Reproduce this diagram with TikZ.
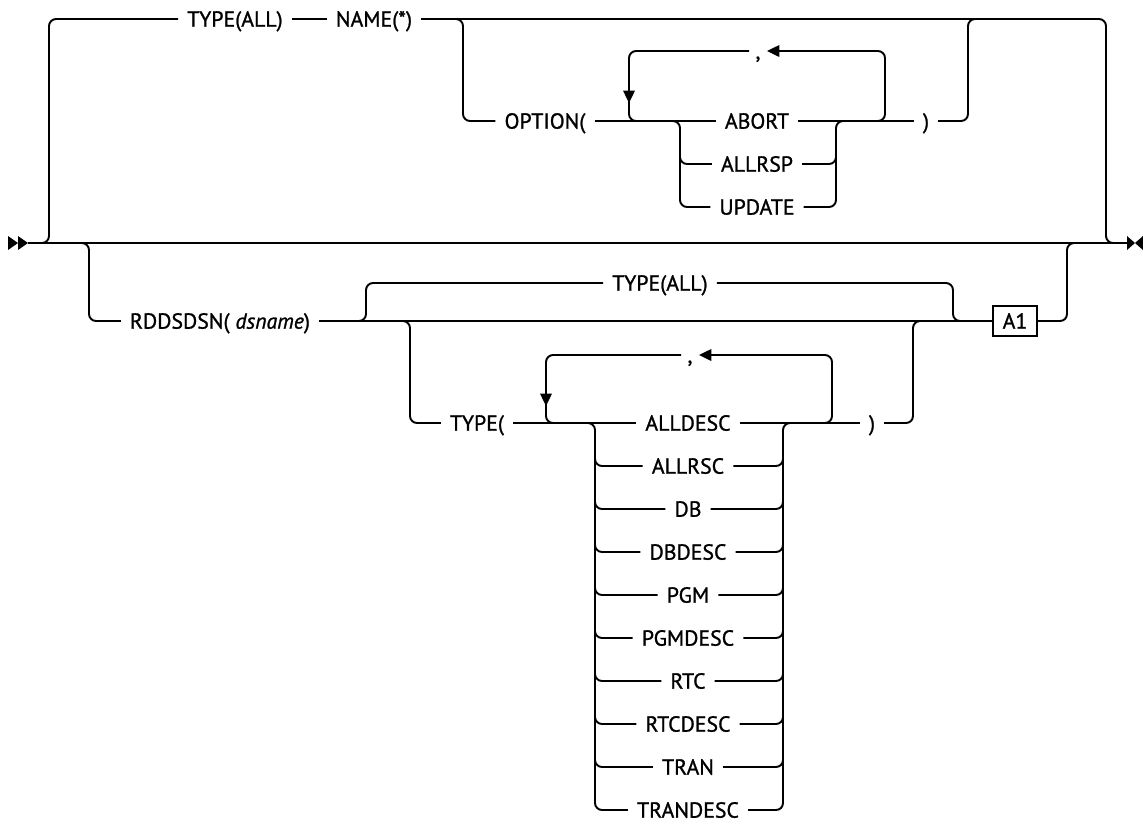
\documentclass[tikz,border=0pt]{standalone}
\usepackage{fontspec}
\setmainfont{PT Sans}[FakeBold=1.1]
\usetikzlibrary{arrows.meta}
\tikzset{
  rail/.style={line width=1.1pt, rounded corners=4pt},
  kw/.style={font=\fontsize{12.4}{14}\selectfont, inner xsep=5pt, inner ysep=0pt, text height=8.7pt, text depth=0pt},
  sepr/.style={kw, inner xsep=3.5pt},
  refbox/.style={kw, draw, line width=1.1pt, inner xsep=4pt, minimum width=25pt, minimum height=17.5pt},
  back/.style={rail, -{Triangle[length=7pt,width=6.5pt]}},
}
\begin{document}
\begin{tikzpicture}[x=0.02cm,y=-0.02cm]
\useasboundingbox (0,0) rectangle (1143,823);
% main line with start and end marks
\coordinate (start) at (28,243);
\coordinate (stop) at (1127,243);
\draw[rail] (start) -- (stop);
\fill (8,236) -- (18,243) -- (8,250) -- cycle;
\fill (18,236) -- (28,243) -- (18,250) -- cycle;
\fill (1127,236) -- (1135,243) -- (1127,250) -- cycle;
\fill (1143,236) -- (1135,243) -- (1143,250) -- cycle;
% upper path
\node[kw] (tall) at (235,19) {TYPE(ALL)};
\node[kw] (nm) at (374,19) {NAME(*)};
\node[kw] (opt) at (545,121) {OPTION(};
\node[kw] (abort) at (757,121) {ABORT};
\node[kw] (allrsp) at (757,164) {ALLRSP};
\node[kw] (update) at (757,207) {UPDATE};
\node[kw] (rp1) at (926,121) {)};
\node[sepr] (cm1) at (758,51) {,};
\draw[rail] (36,243) -- (49,243) -- (49,19) -- (tall.west);
\draw[rail] (tall.east) -- (nm.west);
\draw[rail] (nm.east) -- (1106,19) -- (1106,243) -- (1120,243);
\draw[rail] (450,19) -- (463,19) -- (463,121) -- (opt.west);
\draw[rail] (opt.east) -- (abort.west);
\draw[rail] (abort.east) -- (rp1.west);
\draw[rail] (rp1.east) -- (968,121) -- (968,19) -- (985,19);
\draw[rail] (668,121) -- (680,121) -- (680,207) -- (update.west);
\draw[rail] (680,150) -- (680,164) -- (allrsp.west);
\draw[rail] (update.east) -- (836,207) -- (836,121) -- (848,121);
\draw[rail] (allrsp.east) -- (836,164) -- (836,150);
\draw[back] (870,121) -- (885,121) -- (885,51) -- (cm1.east);
\draw[back] (cm1.west) -- (629,51) -- (629,103);
\draw[rail] (629,95) -- (629,121) -- (645,121);
% lower path
\node[kw] (rdd) at (220,321) {RDDSDSN( \textit{dsname})};
\node[kw] (tall2) at (660,283) {TYPE(ALL)};
\node[kw] (typ) at (477,423) {TYPE(};
\node[refbox] (a1) at (1015,321) {A1};
\node[kw] (rp2) at (872,423) {)};
\node[sepr] (cm2) at (690,355) {,};
\node[kw] (alldesc) at (688,423) {ALLDESC};
\node[kw] (allrsc) at (688,466) {ALLRSC};
\node[kw] (db) at (688,509) {DB};
\node[kw] (dbdesc) at (688,552) {DBDESC};
\node[kw] (pgm) at (688,595) {PGM};
\node[kw] (pgmdesc) at (688,638) {PGMDESC};
\node[kw] (rtc) at (688,681) {RTC};
\node[kw] (rtcdesc) at (688,724) {RTCDESC};
\node[kw] (tran) at (688,767) {TRAN};
\node[kw] (trandesc) at (688,810) {TRANDESC};
\draw[rail] (78,243) -- (89,243) -- (89,321) -- (rdd.west);
\draw[rail] (rdd.east) -- (a1.west);
\draw[rail] (352,321) -- (366,321) -- (366,283) -- (tall2.west);
\draw[rail] (tall2.east) -- (953,283) -- (953,321) -- (966,321);
\draw[rail] (398,321) -- (410,321) -- (410,423) -- (typ.west);
\draw[rail] (typ.east) -- (alldesc.west);
\draw[rail] (alldesc.east) -- (rp2.west);
\draw[rail] (rp2.east) -- (913,423) -- (913,321) -- (926,321);
\draw[rail] (a1.east) -- (1067,321) -- (1067,243) -- (1080,243);
\draw[rail] (583,423) -- (595,423) -- (595,810) -- (trandesc.west);
\draw[rail] (trandesc.east) -- (783,810) -- (783,423) -- (795,423);
\foreach \n in {allrsc,db,dbdesc,pgm,pgmdesc,rtc,rtcdesc,tran} {
  \draw[rail] ([yshift=7.9pt]\n.west -| 595,0) -- (\n.west -| 595,0) -- (\n.west);
  \draw[rail] (\n.east) -- (\n.east -| 783,0) -- ([yshift=7.9pt]\n.east -| 783,0);
}
\draw[back] (815,423) -- (832,423) -- (832,355) -- (cm2.east);
\draw[back] (cm2.west) -- (546,355) -- (546,406);
\draw[rail] (546,398) -- (546,423) -- (562,423);
\end{tikzpicture}
\end{document}
